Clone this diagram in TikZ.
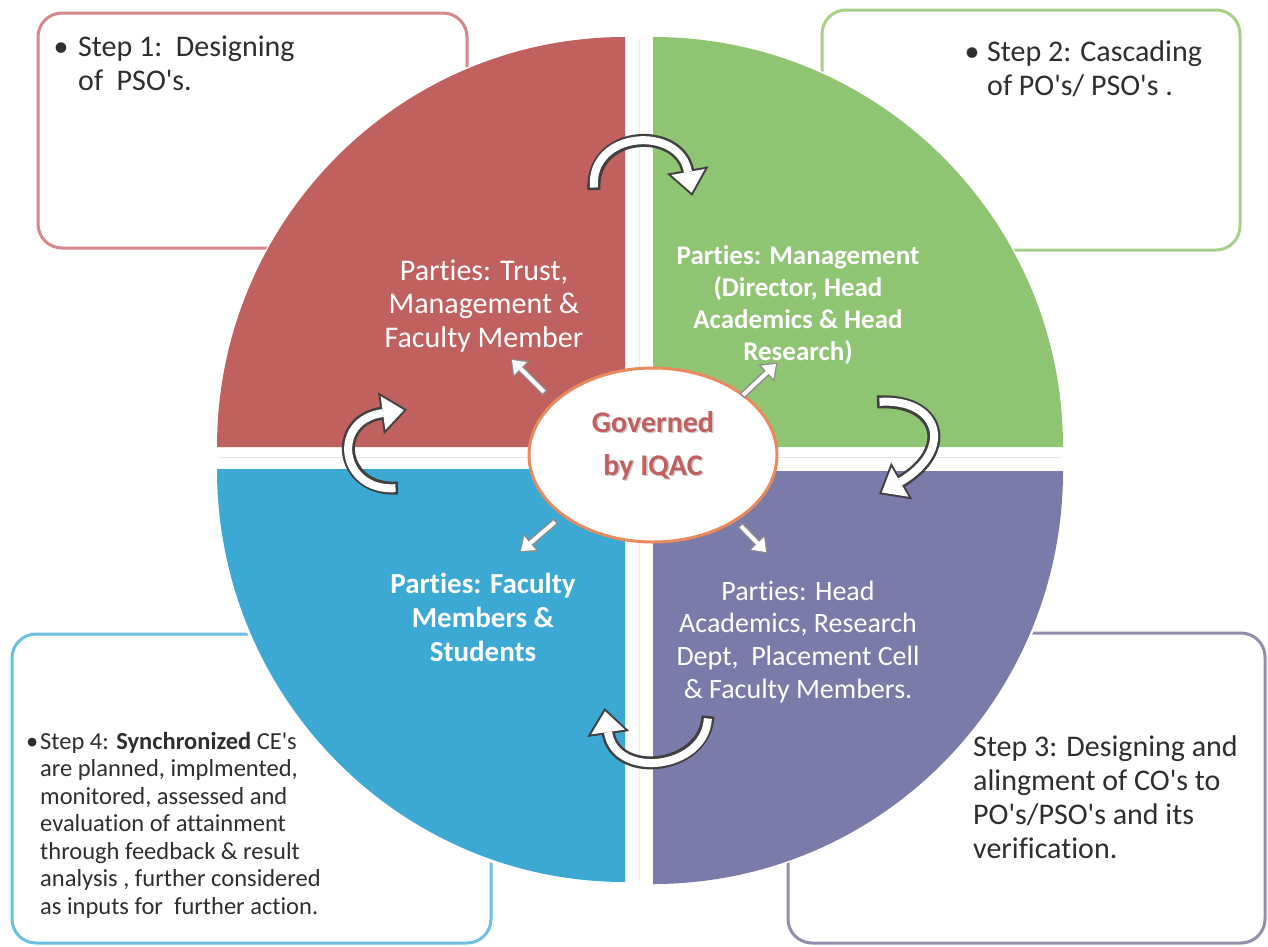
\documentclass[tikz,border=0pt]{standalone}
\usepackage{fontspec}
\setmainfont{Carlito}[Ligatures={TeXOff,NoCommon}]
\usetikzlibrary{calc,shapes.geometric}
\definecolor{qred}{HTML}{C0605F}
\definecolor{qgreen}{HTML}{8FC572}
\definecolor{qblue}{HTML}{3BA9D3}
\definecolor{qpurple}{HTML}{7B7BA9}
\definecolor{bred}{HTML}{D6878C}
\definecolor{bgreen}{HTML}{A6D08A}
\definecolor{bblue}{HTML}{6CBFE3}
\definecolor{bpurple}{HTML}{8F8FAB}
\definecolor{ellborder}{HTML}{E8895E}
\definecolor{govtext}{HTML}{C0605F}
\definecolor{txtdark}{HTML}{2E2E2E}
\definecolor{arrdark}{HTML}{404040}
\definecolor{raddark}{HTML}{8C8C8C}
\tikzset{
  stepbox/.style={rounded corners=24pt, line width=3pt, fill=white},
  steptxt/.style={anchor=base west, inner sep=0pt, text=txtdark, font=\fontsize{30}{34}\selectfont},
  smalltxt/.style={anchor=base west, inner sep=0pt, text=txtdark, font=\fontsize{24.5}{27.5}\selectfont},
  quadtxt/.style={anchor=base, inner sep=0pt, text=white},
  govtxt/.style={anchor=base, inner sep=0pt, font=\fontsize{30}{34}\selectfont\bfseries},
}
\newcommand{\cyclearrow}[5]{%
  \draw[arrdark, line width=13pt] (#1) .. controls (#2) and (#3) .. (#4);
  \filldraw[arrdark, line width=4pt, line join=miter] ($(#4)+(#5+90:17)$) -- ($(#4)+(#5:21)$) -- ($(#4)+(#5-90:17)$) -- cycle;
  \draw[white, line width=8pt] ($(#1)!2.5pt!(#2)$) .. controls (#2) and (#3) .. (#4);
  \fill[white] ($(#4)+(#5+90:17)$) -- ($(#4)+(#5:21)$) -- ($(#4)+(#5-90:17)$) -- cycle;
}
\newcommand{\radarrow}[2]{%
  \draw[raddark, line width=7pt] (#1) -- ($(#2)!12pt!(#1)$);
  \filldraw[raddark, line width=2.5pt, line join=miter] ($(#2)!12pt!(#1)!9pt!90:(#2)$) -- (#2) -- ($(#2)!12pt!(#1)!9pt!-90:(#2)$) -- cycle;
  \draw[white, line width=4pt] ($(#1)!1.5pt!(#2)$) -- ($(#2)!12pt!(#1)$);
  \fill[white] ($(#2)!12pt!(#1)!9pt!90:(#2)$) -- (#2) -- ($(#2)!12pt!(#1)!9pt!-90:(#2)$) -- cycle;
}
\begin{document}
\begin{tikzpicture}[x=1pt, y=-1pt]
\useasboundingbox (0,0) rectangle (1268,946);
\fill[white] (0,0) rectangle (1268,946);

% step boxes
\draw[stepbox, draw=bred] (38,13) rectangle (467,248);
\draw[stepbox, draw=bgreen] (822,10) rectangle (1240,250);
\draw[stepbox, draw=bblue] (12,634) rectangle (491,943);
\draw[stepbox, draw=bpurple] (788,633) rectangle (1265,943);

% white halo of the circle
\fill[white] (640,460) ellipse[x radius=429, y radius=429];

% quadrants
\fill[qred] (625,447) -- ++(-408,0) arc[start angle=180, end angle=270, x radius=408, y radius=410] -- cycle;
\fill[qgreen] (653,447) -- ++(0,-410) arc[start angle=270, end angle=360, x radius=410, y radius=410] -- cycle;
\fill[qblue] (625,469) -- ++(-408,0) arc[start angle=180, end angle=90, x radius=408, y radius=413] -- cycle;
\fill[qpurple] (653,471) -- ++(410,0) arc[start angle=0, end angle=90, x radius=410, y radius=413] -- cycle;
\draw[gray!20, line width=1pt] (219,457) -- (1061,457);
\draw[gray!15, line width=1pt] (639,40) -- (639,881);

% centre ellipse
\node[ellipse, draw=ellborder, line width=3pt, fill=white, minimum width=248pt, minimum height=174pt, inner sep=0pt] (gov) at (653,455) {};
\node[govtxt, text=gray!40] (govs1) at (654.5,433.5) {Governed};
\node[govtxt, text=gray!40] (govs2) at (654.5,476.5) {by IQAC};
\node[govtxt, text=govtext] (gov1) at (653,432) {Governed};
\node[govtxt, text=govtext] (gov2) at (653,475) {by IQAC};

% step texts
\node[steptxt] (s1b) at (53.5,56) {•};
\node[steptxt] (s1a) at (78,56) {Step 1:\ \ Designing};
\node[steptxt] (s1c) at (78,90) {of\ \ PSO's.};

\node[steptxt] (s2b) at (964.5,61) {•};
\node[steptxt] (s2a) at (987,61) {Step 2: Cascading};
\node[steptxt] (s2c) at (987,95) {of PO's/ PSO's .};

\node[steptxt] (s3a) at (973,756) {Step 3: Designing and};
\node[steptxt] (s3b) at (973,790) {alingment of CO's to};
\node[steptxt] (s3c) at (973,824) {PO's/PSO's and its};
\node[steptxt] (s3d) at (973,858) {verification.};

\node[smalltxt] (s4b) at (26,749) {•};
\node[smalltxt] (s4a) at (40,749) {Step 4: \textbf{Synchronized} CE's};
\node[smalltxt] (s4c) at (40,776.5) {are planned, implmented,};
\node[smalltxt] (s4d) at (40,804) {monitored, assessed and};
\node[smalltxt] (s4e) at (40,831.5) {evaluation of attainment};
\node[smalltxt] (s4f) at (40,859) {through feedback \& result};
\node[smalltxt] (s4g) at (40,886.5) {analysis , further considered};
\node[smalltxt] (s4h) at (40,914) {as inputs for\ \ further action.};

% quadrant texts
\begin{scope}[every node/.style={quadtxt, font=\fontsize{30}{34}\selectfont}]
\node (r1) at (484,280) {Parties: Trust,};
\node (r2) at (484,313) {Management \&};
\node (r3) at (484,347) {Faculty Member};
\end{scope}
\begin{scope}[every node/.style={quadtxt, font=\fontsize{27}{32}\selectfont\bfseries}]
\node (g1) at (798,264) {Parties: Management};
\node (g2) at (798,296) {(Director, Head};
\node (g3) at (798,328) {Academics \& Head};
\node (g4) at (798,360) {Research)};
\end{scope}
\begin{scope}[every node/.style={quadtxt, font=\fontsize{29}{34}\selectfont\bfseries}]
\node (b1) at (483,593) {Parties: Faculty};
\node (b2) at (483,627) {Members \&};
\node (b3) at (483,661) {Students};
\end{scope}
\begin{scope}[every node/.style={quadtxt, font=\fontsize{28}{32}\selectfont}]
\node (p1) at (798,600) {Parties: Head};
\node (p2) at (798,632) {Academics, Research};
\node (p3) at (798,665) {Dept,\ \ Placement Cell};
\node (p4) at (798,698) {\& Faculty Members.};
\end{scope}

% radial arrows
\coordinate (ulT) at (545,393); \coordinate (ulH) at (512,360);
\coordinate (urT) at (742,396); \coordinate (urH) at (776,364);
\coordinate (llT) at (556,521); \coordinate (llH) at (521,551);
\coordinate (lrT) at (740,525); \coordinate (lrH) at (766,552);
\radarrow{ulT}{ulH}
\radarrow{urT}{urH}
\radarrow{llT}{llH}
\radarrow{lrT}{lrH}

% cycle arrows
\coordinate (tT) at (594,190); \coordinate (tA) at (590,130); \coordinate (tB) at (680,125); \coordinate (tE) at (688,172);
\coordinate (rT) at (877,402); \coordinate (rA) at (940,398); \coordinate (rB) at (955,450); \coordinate (rE) at (900,482);
\coordinate (bT) at (708,716); \coordinate (bA) at (705,770); \coordinate (bB) at (615,780); \coordinate (bE) at (608,732);
\coordinate (lT) at (398,488); \coordinate (lA) at (340,492); \coordinate (lB) at (330,420); \coordinate (lE) at (383,413);
\cyclearrow{tT}{tA}{tB}{tE}{80}
\cyclearrow{rT}{rA}{rB}{rE}{150}
\cyclearrow{bT}{bA}{bB}{bE}{262}
\cyclearrow{lT}{lA}{lB}{lE}{352}
\end{tikzpicture}
\end{document}
